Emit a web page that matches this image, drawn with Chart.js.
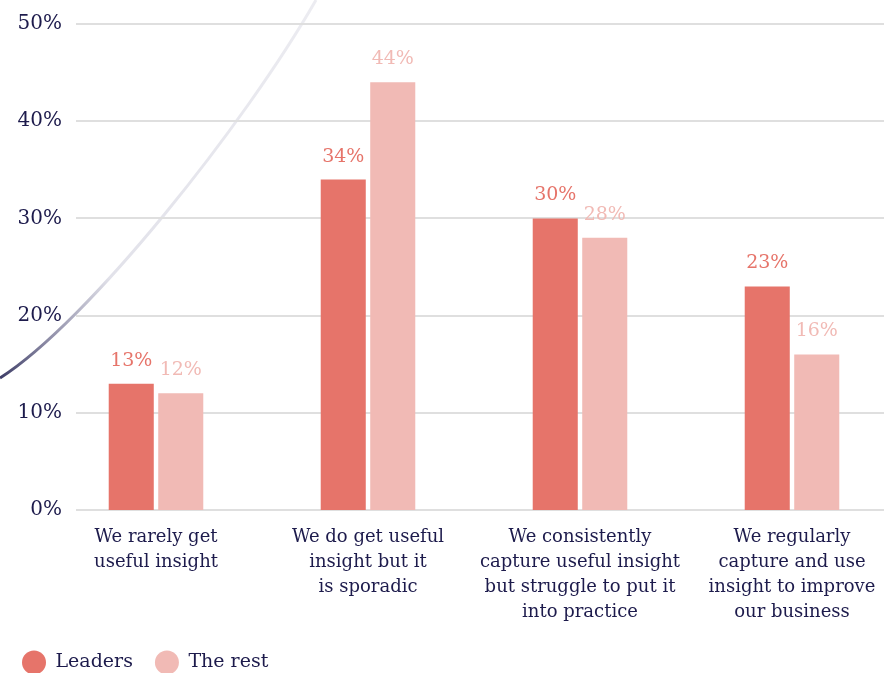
<!DOCTYPE html>
<html>
<head>
<meta charset="utf-8">
<script src="https://cdn.jsdelivr.net/npm/chart.js@4/dist/chart.umd.min.js"></script>
<style>
    html, body { margin: 0; padding: 0; background: #fff; overflow: hidden; }
    #wrap { width: 884px; height: 673px; overflow: hidden; }
</style>
</head>
<body>
<div id="wrap">
    <canvas id="insightChart" width="898" height="682"></canvas>
</div>
<script>
// =====================
// Insight survey chart
// =====================

const categories = [
    ['We rarely get', 'useful insight'],
    ['We do get useful', 'insight but it', 'is sporadic'],
    ['We consistently', 'capture useful insight', 'but struggle to put it', 'into practice'],
    ['We regularly', 'capture and use', 'insight to improve', 'our business']
];
const leaders = [13, 34, 30, 23];
const theRest = [12, 44, 28, 16];
const seriesNames = ['Leaders', 'The rest'];
const yTicks = [0, 10, 20, 30, 40, 50];

const NAVY = '#1d1b4c';
const LEADER_RED = '#e6746a';
const REST_PINK = '#f1bab5';
const GRID = '#dfdfdf';
const FONT = "'DejaVu Serif', Georgia, serif";
const Y_FONT_SIZE = 20;

// right edge of the y tick labels sits 12px inside the plot area
const measureCtx = document.createElement('canvas').getContext('2d');
measureCtx.font = Y_FONT_SIZE + 'px ' + FONT;
const widestTick = Math.max(...yTicks.map(v => measureCtx.measureText(v + '%').width));

// Light decorative swoosh behind the bars
const swooshPlugin = {
    id: 'swoosh',
    beforeDatasetsDraw(chart) {
        const ctx = chart.ctx;
        const grad = ctx.createLinearGradient(0, 378, 318, 0);
        grad.addColorStop(0, '#3f3e68');
        grad.addColorStop(0.12, '#8d8ca6');
        grad.addColorStop(0.3, '#e2e2ea');
        grad.addColorStop(1, '#ececf1');
        ctx.save();
        ctx.beginPath();
        ctx.moveTo(0, 378);
        ctx.bezierCurveTo(88, 322, 245, 124, 316, 0);
        ctx.strokeStyle = grad;
        ctx.lineWidth = 3;
        ctx.stroke();
        ctx.restore();
    }
};

// Horizontal grid lines start a little right of the tick labels
const gridPlugin = {
    id: 'offsetGrid',
    beforeDatasetsDraw(chart) {
        const ctx = chart.ctx;
        const y = chart.scales.y;
        const area = chart.chartArea;
        ctx.save();
        ctx.strokeStyle = GRID;
        ctx.lineWidth = 2;
        y.ticks.forEach(t => {
            const py = Math.round(y.getPixelForValue(t.value));
            ctx.beginPath();
            ctx.moveTo(area.left + 26, py);
            ctx.lineTo(area.right, py);
            ctx.stroke();
        });
        ctx.restore();
    }
};

// Percentage labels above each bar
const valueLabelPlugin = {
    id: 'valueLabels',
    afterDatasetsDraw(chart) {
        const ctx = chart.ctx;
        ctx.save();
        ctx.font = '19px ' + FONT;
        ctx.textAlign = 'center';
        ctx.textBaseline = 'alphabetic';
        chart.data.datasets.forEach((ds, i) => {
            const meta = chart.getDatasetMeta(i);
            ctx.fillStyle = ds.backgroundColor;
            meta.data.forEach((bar, j) => {
                ctx.fillText(ds.data[j] + '%', bar.x, bar.y - 18);
            });
        });
        ctx.restore();
    }
};

const ctx = document.getElementById('insightChart').getContext('2d');
new Chart(ctx, {
    type: 'bar',
    data: {
        labels: categories,
        datasets: [
            {
                label: seriesNames[0],
                data: leaders,
                backgroundColor: LEADER_RED,
                categoryPercentage: 0.467,
                barPercentage: 0.91
            },
            {
                label: seriesNames[1],
                data: theRest,
                backgroundColor: REST_PINK,
                categoryPercentage: 0.467,
                barPercentage: 0.91
            }
        ]
    },
    options: {
        responsive: false,
        animation: false,
        layout: { padding: { top: 24, left: 0, right: 0, bottom: 0 } },
        plugins: {
            tooltip: { enabled: false },
            legend: {
                position: 'bottom',
                align: 'start',
                labels: {
                    usePointStyle: true,
                    pointStyle: 'circle',
                    pointStyleWidth: 24,
                    boxHeight: 17,
                    padding: 22,
                    color: NAVY,
                    font: { family: FONT, size: 19 }
                }
            }
        },
        scales: {
            x: {
                offset: true,
                grid: { display: false, drawTicks: false },
                border: { display: false },
                ticks: {
                    color: NAVY,
                    padding: 15,
                    maxRotation: 0,
                    autoSkip: false,
                    font: { family: FONT, size: 18, lineHeight: '25px' }
                },
                afterFit(scale) { scale.height = 121; }
            },
            y: {
                min: 0,
                max: 50,
                grid: { display: false, drawTicks: false },
                border: { display: false },
                afterBuildTicks(scale) {
                    scale.ticks = yTicks.map(v => ({ value: v }));
                },
                ticks: {
                    color: NAVY,
                    mirror: true,
                    crossAlign: 'far',
                    padding: 12 - widestTick,
                    font: { family: FONT, size: Y_FONT_SIZE },
                    callback: v => v + '%'
                },
                afterFit(scale) { scale.width = 50; }
            }
        }
    },
    plugins: [swooshPlugin, gridPlugin, valueLabelPlugin]
});
</script>
</body>
</html>
